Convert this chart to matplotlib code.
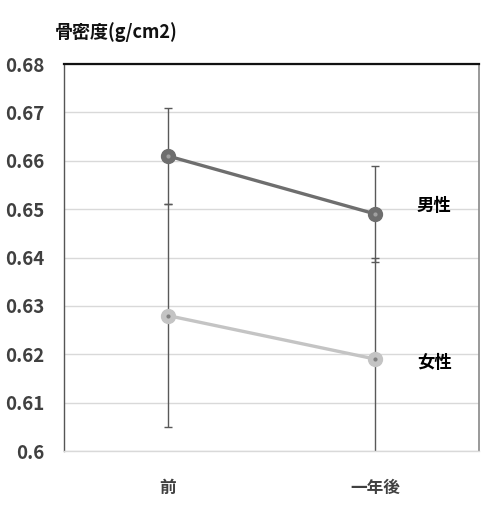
import matplotlib
matplotlib.use("Agg")
import matplotlib.pyplot as plt

plt.rcParams['font.family'] = ['Noto Sans CJK JP', 'DejaVu Sans']

# DATA
categories = ['前', '一年後']
male = [0.661, 0.649]
male_err = [0.010, 0.010]
female = [0.628, 0.619]
female_err = [0.023, 0.021]
yticks = [0.6, 0.61, 0.62, 0.63, 0.64, 0.65, 0.66, 0.67, 0.68]
ytick_labels = ['0.6', '0.61', '0.62', '0.63', '0.64', '0.65', '0.66', '0.67', '0.68']

fig = plt.figure(figsize=(4.84, 5.11), dpi=100)
ax = fig.add_axes([64 / 484, 60 / 511, 415 / 484, 387 / 511])

x = list(range(len(categories)))

# error bars first (behind the lines)
ax.errorbar(x, male, yerr=male_err, fmt='none', ecolor='#595959',
            elinewidth=1, capsize=3, capthick=1, zorder=2)
ax.errorbar(x, female, yerr=female_err, fmt='none', ecolor='#595959',
            elinewidth=1, capsize=3, capthick=1, zorder=2)

# series lines with ring markers
ax.plot(x, male, color='#6e6e6e', linewidth=2.4, marker='o', markersize=10,
        markerfacecolor='#6e6e6e', markeredgecolor='#6e6e6e', zorder=3)
ax.plot(x, male, linestyle='none', marker='o', markersize=3,
        markerfacecolor='#a0a0a0', markeredgecolor='none', zorder=4)
ax.plot(x, female, color='#c4c4c4', linewidth=2.4, marker='o', markersize=10,
        markerfacecolor='#c4c4c4', markeredgecolor='#c4c4c4', zorder=3)
ax.plot(x, female, linestyle='none', marker='o', markersize=3,
        markerfacecolor='#808080', markeredgecolor='none', zorder=4)

ax.set_xlim(-0.5, 1.5)
ax.set_ylim(0.6, 0.68)
ax.set_yticks(yticks)
ax.set_yticklabels(ytick_labels, fontsize=13.5, color='#404040', fontweight='bold')
ax.set_xticks(x)
ax.set_xticklabels(categories, fontsize=12, color='#404040', fontweight='bold')
ax.tick_params(axis='y', length=0, pad=14)
ax.tick_params(axis='x', length=0, pad=20)

ax.grid(axis='y', color='#d9d9d9', linewidth=1)
ax.set_axisbelow(True)

ax.spines['top'].set_color('#111111')
ax.spines['top'].set_linewidth(1.6)
ax.spines['left'].set_color('#555555')
ax.spines['left'].set_linewidth(1)
ax.spines['right'].set_color('#888888')
ax.spines['right'].set_linewidth(1.2)
ax.spines['bottom'].set_color('#d9d9d9')
ax.spines['bottom'].set_linewidth(1)

fig.text(55 / 484, 1 - 32 / 511, '骨密度(g/cm2)', fontsize=13, color='#111111',
         fontweight='bold', va='center', ha='left')

ax.text(1.2, male[1] + 0.0017, '男性', fontsize=12.5, fontweight='bold', va='center')
ax.text(1.2, female[1] - 0.0008, '女性', fontsize=12.5, fontweight='bold', va='center')

fig.savefig('out.png', dpi=100)
